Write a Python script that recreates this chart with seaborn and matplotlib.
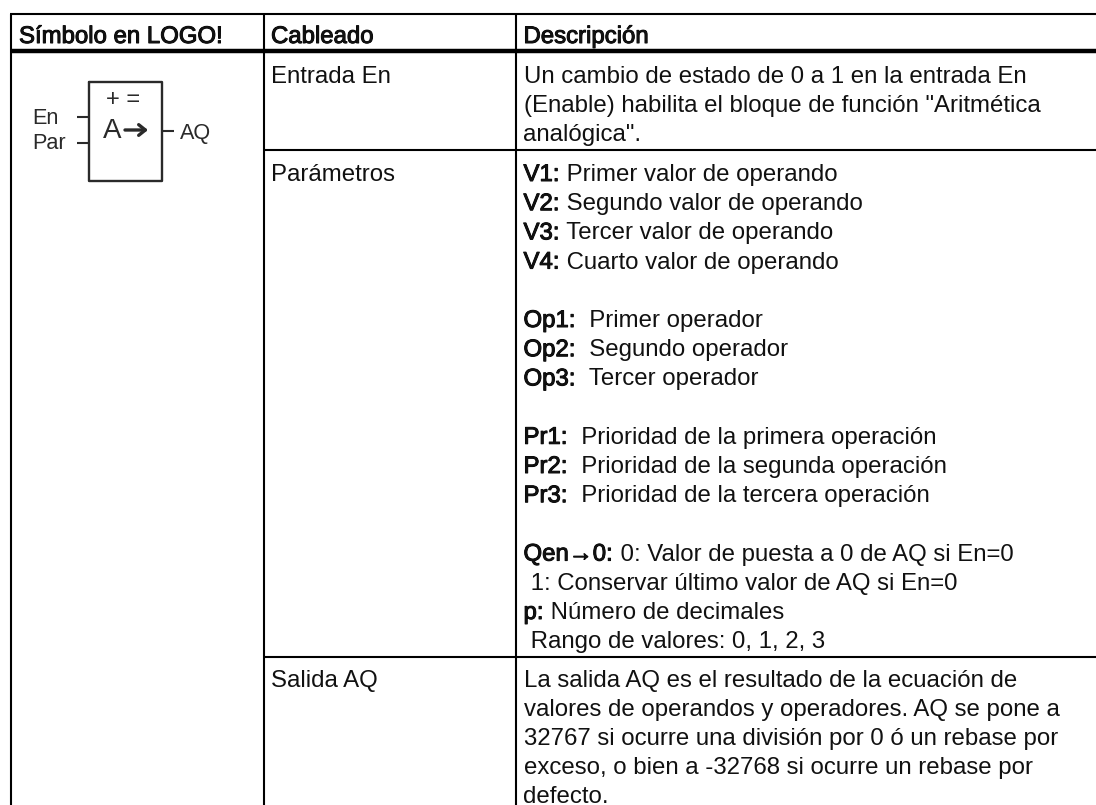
import matplotlib
matplotlib.use('Agg')
import matplotlib.pyplot as plt
import matplotlib.patheffects as pe
import seaborn as sns

# Tabla del bloque "Aritmética analógica" (LOGO!)
HEADERS = ["Símbolo en LOGO!", "Cableado", "Descripción"]
ROW_NAMES = ["Entrada En", "Parámetros", "Salida AQ"]

ENTRADA_TEXT = [
    "Un cambio de estado de 0 a 1 en la entrada En",
    "(Enable) habilita el bloque de función \"Aritmética",
    "analógica\".",
]
# (prefijo en negrita, resto de la línea); None = línea vacía
PARAM_TEXT = [
    ("V1:", " Primer valor de operando"),
    ("V2:", " Segundo valor de operando"),
    ("V3:", " Tercer valor de operando"),
    ("V4:", " Cuarto valor de operando"),
    None,
    ("Op1:", "  Primer operador"),
    ("Op2:", "  Segundo operador"),
    ("Op3:", "  Tercer operador"),
    None,
    ("Pr1:", "  Prioridad de la primera operación"),
    ("Pr2:", "  Prioridad de la segunda operación"),
    ("Pr3:", "  Prioridad de la tercera operación"),
    None,
    ("Qen→0:", " 0: Valor de puesta a 0 de AQ si En=0"),
    ("", " 1: Conservar último valor de AQ si En=0"),
    ("p:", " Número de decimales"),
    ("", " Rango de valores: 0, 1, 2, 3"),
]
SALIDA_TEXT = [
    "La salida AQ es el resultado de la ecuación de",
    "valores de operandos y operadores. AQ se pone a",
    "32767 si ocurre una división por 0 ó un rebase por",
    "exceso, o bien a -32768 si ocurre un rebase por",
    "defecto.",
]

FONT_SIZE = 17.25
LINE_STEP = 29.2
TEXT_COLOR = '#111111'
FAUX_BOLD = [pe.withStroke(linewidth=0.7, foreground='black')]


def put_text(ax, x, y, s, bold=False, **kw):
    t = ax.text(x, y, s, fontsize=kw.pop('fontsize', FONT_SIZE), va='baseline', ha='left',
                color=kw.pop('color', TEXT_COLOR), **kw)
    if bold:
        t.set_path_effects(FAUX_BOLD)
    return t


def draw_grid(ax):
    ax.hlines(14, 9.5, 1096, color='black', lw=1.5)
    ax.hlines(51.5, 9.5, 1096, color='black', lw=3.2)
    ax.hlines([150, 657], 263, 1096, color='black', lw=1.5)
    ax.vlines([10.5, 263.5, 515.5], 14, 805, color='black', lw=1.5)


def draw_symbol(ax):
    c = '#2a2a2a'
    ax.plot([89, 162, 162, 89, 89], [82, 82, 181, 181, 82], color=c, lw=1.7)
    ax.hlines([117, 143], 77, 89, color=c, lw=1.5)
    ax.hlines(131, 162, 174, color=c, lw=1.5)
    put_text(ax, 32, 124, "En", color=c, fontsize=15.6)
    put_text(ax, 32, 149, "Par", color=c, fontsize=15.6)
    put_text(ax, 180, 139, "AQ", color=c, fontsize=15.6)
    put_text(ax, 106, 105.5, "+ =", color=c, fontsize=17)
    put_text(ax, 103, 138.5, "A", color=c, fontsize=20)
    ax.annotate('', xy=(148, 130), xytext=(125, 130),
                arrowprops=dict(arrowstyle='->,head_length=0.4,head_width=0.32',
                                color=c, lw=2.4, shrinkA=0, shrinkB=0))


def main():
    sns.set_theme(style='white')
    plt.rcParams['font.family'] = ['Liberation Sans', 'DejaVu Sans']

    fig = plt.figure(figsize=(10.96, 8.05), dpi=100)
    ax = fig.add_axes([0, 0, 1, 1])
    ax.set_xlim(0, 1096)
    ax.set_ylim(805, 0)
    ax.axis('off')

    draw_grid(ax)
    draw_symbol(ax)

    for x, label in zip([19, 271, 523.5], HEADERS):
        put_text(ax, x, 43, label, bold=True)

    for y, label in zip([83, 181, 687], ROW_NAMES):
        put_text(ax, 271, y, label)

    for i, line in enumerate(ENTRADA_TEXT):
        put_text(ax, 523.5, 83 + i * LINE_STEP, line)

    renderer = fig.canvas.get_renderer()
    for i, item in enumerate(PARAM_TEXT):
        if item is None:
            continue
        y = 181 + i * LINE_STEP
        prefix, rest = item
        x = 523.5
        if prefix:
            # prefijo engrosado y el resto a continuacion
            t = put_text(ax, x, y, prefix, bold=True)
            x += t.get_window_extent(renderer).width + 1
        put_text(ax, x, y, rest)

    for i, line in enumerate(SALIDA_TEXT):
        put_text(ax, 523.5, 687 + i * 29, line)

    fig.savefig('out.png', dpi=100, facecolor='white')
    plt.close(fig)


if __name__ == '__main__':
    main()
